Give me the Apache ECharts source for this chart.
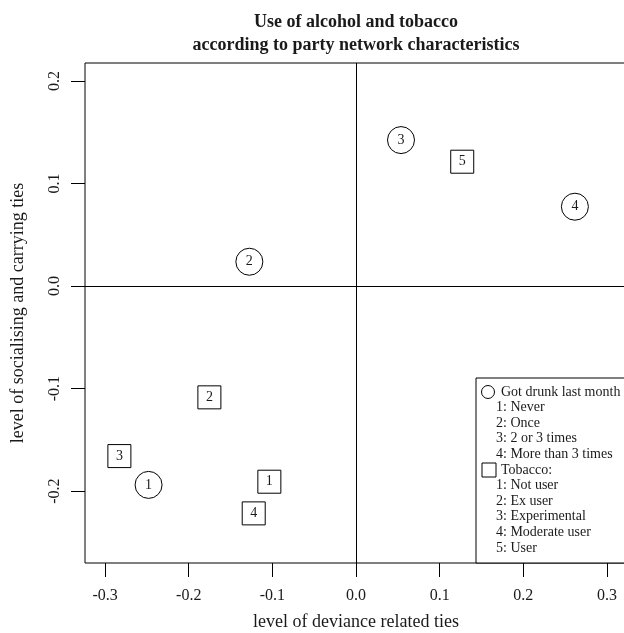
<!DOCTYPE html>
<html>
<head>
<meta charset="utf-8">
<script src="https://cdn.jsdelivr.net/npm/echarts@6/dist/echarts.min.js"></script>
<style>
html,body{margin:0;padding:0;background:#fff;}
#chart{width:624px;height:633px;}
</style>
</head>
<body>
<div id="chart"></div>
<script>
// ---- data ----
const titleLines = ["Use of alcohol and tobacco", "according to party network characteristics"];
const xAxisTitle = "level of deviance related ties";
const yAxisTitle = "level of socialising and carrying ties";
const xTicks = [-0.3, -0.2, -0.1, 0.0, 0.1, 0.2, 0.3];
const yTicks = [-0.2, -0.1, 0.0, 0.1, 0.2];

const drunkLabels = ["1", "2", "3", "4"];
const drunkX = [-0.248, -0.1275, 0.0538, 0.2617];
const drunkY = [-0.194, 0.0237, 0.1424, 0.0774];

const tobaccoLabels = ["1", "2", "3", "4", "5"];
const tobaccoX = [-0.1036, -0.1753, -0.2829, -0.1223, 0.1270];
const tobaccoY = [-0.1909, -0.1086, -0.1659, -0.2218, 0.1213];

const drunkLegendTitle = "Got drunk last month";
const drunkLegendItems = ["1: Never", "2: Once", "3: 2 or 3 times", "4: More than 3 times"];
const tobaccoLegendTitle = "Tobacco:";
const tobaccoLegendItems = ["1: Not user", "2: Ex user", "3: Experimental", "4: Moderate user", "5: User"];

// ---- chart ----
const FONT = "'Liberation Serif', 'Times New Roman', serif";
const INK = '#1a1a1a';

function pts(xs, ys, labs) {
  return xs.map((x, i) => ({ value: [x, ys[i]], name: labs[i] }));
}

const legendGraphics = [];
const LX = 476, LY = 378, LW = 160, LH = 185, ROW = 15.6, ROW0 = 392;
legendGraphics.push({ type: 'rect', shape: { x: LX, y: LY, width: LW, height: LH }, style: { fill: '#fff', stroke: '#000', lineWidth: 1 }, z: 10 });
const rows = [];
rows.push({ text: drunkLegendTitle, x: 501, sym: 'circle' });
drunkLegendItems.forEach(t => rows.push({ text: t, x: 496 }));
rows.push({ text: tobaccoLegendTitle, x: 501, sym: 'square' });
tobaccoLegendItems.forEach(t => rows.push({ text: t, x: 496 }));
rows.forEach((r, i) => {
  const cy = ROW0 + i * ROW;
  legendGraphics.push({ type: 'text', x: r.x, y: cy, style: { text: r.text, font: '14px ' + FONT, fill: INK, textVerticalAlign: 'middle', textAlign: 'left' }, z: 11 });
  if (r.sym === 'circle') {
    legendGraphics.push({ type: 'circle', shape: { cx: 488, cy: cy, r: 6.5 }, style: { fill: 'none', stroke: '#000', lineWidth: 1 }, z: 11 });
  } else if (r.sym === 'square') {
    legendGraphics.push({ type: 'rect', shape: { x: 482, y: cy - 7, width: 14, height: 14 }, style: { fill: 'none', stroke: '#000', lineWidth: 1 }, z: 11 });
  }
});

const chart = echarts.init(document.getElementById('chart'), null, { renderer: 'canvas' });
chart.setOption({
  animation: false,
  backgroundColor: '#fff',
  title: {
    text: titleLines.join('\n'),
    left: 356,
    top: 11,
    padding: 0,
    textAlign: 'center',
    textStyle: { fontFamily: FONT, fontWeight: 'bold', fontSize: 18, lineHeight: 23, color: INK }
  },
  grid: {
    left: 85, top: 63, width: 542, height: 500,
    show: true, borderColor: '#000', borderWidth: 1, backgroundColor: 'transparent',
    containLabel: false,
    outerBoundsMode: 'none'
  },
  xAxis: {
    type: 'value', min: -0.324, max: 0.324,
    name: xAxisTitle, nameLocation: 'middle', nameGap: 50,
    nameTextStyle: { fontFamily: FONT, fontSize: 18, color: INK },
    axisLine: { show: false, onZero: false },
    splitLine: { show: false },
    axisTick: { show: true, length: 14, customValues: xTicks, lineStyle: { color: '#000', width: 1 } },
    axisLabel: { customValues: xTicks, margin: 25, fontFamily: FONT, fontSize: 16, color: INK,
      formatter: v => v.toFixed(1) }
  },
  yAxis: {
    type: 'value', min: -0.2702, max: 0.2176,
    name: yAxisTitle, nameLocation: 'middle', nameGap: 58,
    nameTextStyle: { fontFamily: FONT, fontSize: 18, color: INK },
    axisLine: { show: false, onZero: false },
    splitLine: { show: false },
    axisTick: { show: true, length: 14, customValues: yTicks, lineStyle: { color: '#000', width: 1 } },
    axisLabel: { customValues: yTicks, margin: 22, rotate: 90, fontFamily: FONT, fontSize: 16, color: INK,
      formatter: v => v.toFixed(1) }
  },
  series: [
    {
      name: 'drunk', type: 'scatter', symbol: 'circle', symbolSize: 27,
      itemStyle: { color: '#fff', borderColor: '#000', borderWidth: 1, opacity: 1 },
      label: { show: true, position: 'inside', formatter: p => p.name, fontFamily: FONT, fontSize: 14, color: INK },
      data: pts(drunkX, drunkY, drunkLabels),
      markLine: {
        silent: true, symbol: 'none', label: { show: false },
        lineStyle: { color: '#000', type: 'solid', width: 1 },
        emphasis: { disabled: true },
        data: [{ xAxis: 0 }, { yAxis: 0 }]
      },
      z: 3
    },
    {
      name: 'tobacco', type: 'scatter', symbol: 'rect', symbolSize: 23,
      itemStyle: { color: '#fff', borderColor: '#000', borderWidth: 1, opacity: 1 },
      label: { show: true, position: 'inside', formatter: p => p.name, fontFamily: FONT, fontSize: 14, color: INK },
      data: pts(tobaccoX, tobaccoY, tobaccoLabels),
      z: 3
    }
  ],
  graphic: legendGraphics
});
</script>
</body>
</html>
